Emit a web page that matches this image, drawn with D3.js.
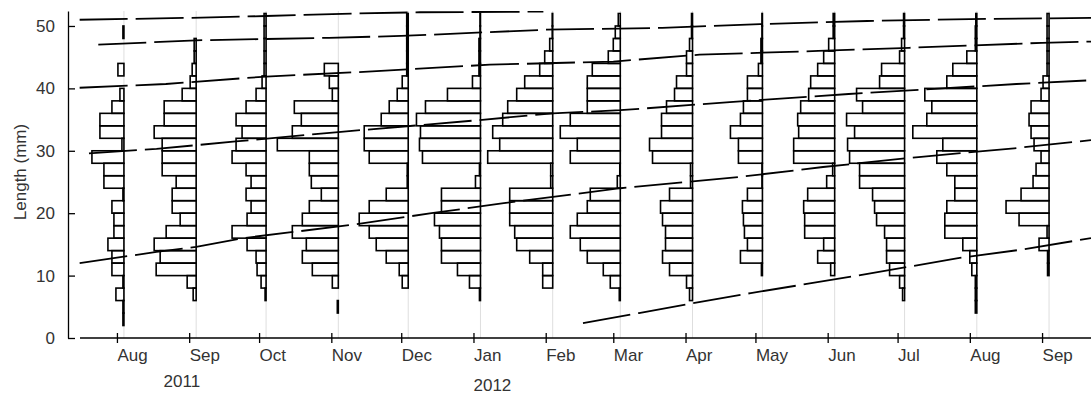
<!DOCTYPE html>
<html>
<head>
<meta charset="utf-8">
<script src="https://cdn.jsdelivr.net/npm/d3@7"></script>
<style>
body { margin: 0; background: #fff; }
text { font-family: "Liberation Sans", Arial, sans-serif; fill: #333; }
</style>
</head>
<body>
<div id="chart"></div>
<script>
// sampling dates, one histogram per date
const sampleDates = ['2011-08-04','2011-09-04','2011-10-04','2011-11-04','2011-12-04','2012-01-04',
    '2012-02-04','2012-03-04','2012-04-04','2012-05-04','2012-06-04','2012-07-04','2012-08-04','2012-09-04'];

// lower edge of each 2 mm length class
const binStarts = [2,4,6,8,10,12,14,16,18,20,22,24,26,28,30,32,34,36,38,40,42,44,46,48,50];
const binWidth = 2;

// frequencies per length class
const aug11 = [0.5,0.5,4,0.5,6,6,8,5,5,6,0.5,10,10,16,1,12,12,6,2,0,3,0,0,0.5,0];
const sep11 = [0,0,1.5,4.5,20,18,21,15,8,12,12,10,17,17,17,21,16,16,7,3,2,1,1,0,0];
const oct11 = [0,0,0.5,2.5,4.5,5,9.5,17,9.5,7.5,10,7.5,10,17,15,12,15,10,5,2,1,1,1,1,1];
const nov11 = [0,0.5,0,3,13,18,16,23,18,14.5,8.5,13.5,14.5,14.5,30.5,23,18.5,22,3,4.5,7,0,0,0,0];
const dec11 = [0,0,0,3,4.5,11,16,19.5,24.5,19.5,11,0.5,0.5,19.5,22,22,13.5,9.5,5.5,3,0.75,0.75,0.75,0.75,0.75];
const jan12 = [0,0,0.5,5.5,11.5,19.5,19.5,20.5,23,19.5,19.5,2.5,0.5,29,30.5,30,32,27.5,16.5,4,0.75,0.75,0.75,0.25,0.25];
const feb12 = [0,0,0,5,5,11.5,18,19,21.5,21.5,21.5,1,1,32.5,26.5,30,25,22.5,18,14,6.5,4,1.5,0.25,0.25];
const mar12 = [0,0,0.5,5,8.5,16.5,20,25,21.5,16.5,15,1.5,0.25,25,21.5,30,25,16.5,16.5,16.5,14,6,3.5,2.5,1];
const apr12 = [0,0,1.5,3,11.5,15,13.5,13.5,15,16,11.5,1,1,20,21.5,15.5,15.5,13,9,8,3,3,1.5,0.5,0.5];
const may12 = [0,0,0,0,0.5,11,7.5,9,9.5,10,7.5,0.25,0.25,12,12,16,11,9.5,7.5,7.5,2,0.75,0.75,0.25,0.25];
const jun12 = [0,0,0,0,2,8.5,5.5,15,15,15.5,13.5,4,1,20.5,20.5,18,18.5,17,13,12,8.5,5.5,3,0.75,0.75];
const jul12 = [0,0,1,2.5,7.5,9,9,10,14,15,16,22.5,22.5,27.5,28.5,25,29,21,24,12.5,11.5,2.5,1.5,0.5,0.5];
const aug12 = [0,0.75,0.75,0.75,2.5,3.5,7,16,16,15,11,11,15,20,17,32,25,22.5,26,15,12,5,0.75,0.75,0.5];
const sep12 = [0,0,0,0,0.75,0.75,5,1,15,21.5,14,8,6.5,4,7.5,9,10,9,4,3,1,1,1,1,1];
const freqs = [aug11, sep11, oct11, nov11, dec11, jan12, feb12, mar12, apr12, may12, jun12, jul12, aug12, sep12];

// cohort growth lines [date, length mm]
const cohortA = [['2011-07-16',51.0],['2011-09-01',51.3],['2011-10-04',51.6],['2011-11-12',52.0],['2011-12-09',52.2],['2012-01-31',52.3]];
const cohortB = [['2011-07-24',47.0],['2011-09-04',47.7],['2011-10-31',48.1],['2011-12-01',48.4],['2012-02-01',49.4],['2012-03-22',49.7],
    ['2012-05-03',50.3],['2012-06-18',50.8],['2012-08-01',51.1],['2012-09-22',51.3]];
const cohortC = [['2011-07-16',40.1],['2011-08-22',40.7],['2011-10-04',41.9],['2011-11-12',42.6],['2012-01-08',43.8],['2012-03-01',44.3],
    ['2012-04-07',45.4],['2012-05-28',46.0],['2012-07-06',46.5],['2012-09-01',47.3],['2012-09-22',47.5]];
const cohortD = [['2011-07-20',29.6],['2011-08-18',30.3],['2011-09-21',31.5],['2011-11-04',33.0],['2012-01-03',34.9],['2012-02-04',36.0],
    ['2012-03-04',36.5],['2012-04-20',37.8],['2012-06-10',39.1],['2012-08-21',40.7],['2012-09-22',41.3]];
const cohortE = [['2011-07-16',12.0],['2011-08-18',13.8],['2011-09-04',14.6],['2011-09-24',16.0],['2011-11-09',18.1],['2011-12-14',20.0],
    ['2012-01-14',21.6],['2012-03-04',24.0],['2012-04-24',25.8],['2012-05-30',27.4],['2012-07-10',29.0],['2012-08-20',30.4],['2012-09-22',31.7]];
const cohortF = [['2012-02-17',2.4],['2012-03-12',4.0],['2012-04-03',5.5],['2012-04-29',7.2],['2012-06-14',10.0],['2012-07-27',12.8],
    ['2012-08-22',14.1],['2012-09-22',16.0]];
const cohorts = [cohortA, cohortB, cohortC, cohortD, cohortE, cohortF];

// axis ticks and labels
const monthTicks = ['2011-08-01','2011-09-01','2011-10-01','2011-11-01','2011-12-01','2012-01-01','2012-02-01',
    '2012-03-01','2012-04-01','2012-05-01','2012-06-01','2012-07-01','2012-08-01','2012-09-01'];
const monthLabels = ['Aug','Sep','Oct','Nov','Dec','Jan','Feb','Mar','Apr','May','Jun','Jul','Aug','Sep'];
const yTicks = [0, 10, 20, 30, 40, 50];
const yearLabels = ['2011', '2012'];
const yearDates = ['2011-08-21', '2012-01-01'];

const w = 1091;
const h = 396;
const parse = d3.timeParse('%Y-%m-%d');

const xScale = d3.scaleTime()
    .domain([parse('2011-07-11'), parse('2012-09-22')])
    .range([68, w]);

const yScale = d3.scaleLinear()
    .domain([0, 52.4])
    .range([338, 11]);

// bar length per frequency unit
const lenScale = d3.scaleLinear()
    .domain([0, 10])
    .range([0, 20]);

const svg = d3.select('#chart')
    .append('svg')
    .attr('width', w)
    .attr('height', h);

svg.append('clipPath')
    .attr('id', 'plot')
    .append('rect')
    .attr('x', 68)
    .attr('y', yScale(52.4))
    .attr('width', w - 68)
    .attr('height', yScale(0) - yScale(52.4));

// faint lines at sampling dates
svg.append('g')
    .selectAll('line')
    .data(sampleDates)
    .enter()
    .append('line')
    .attr('x1', d => xScale(parse(d)))
    .attr('x2', d => xScale(parse(d)))
    .attr('y1', yScale(52.4))
    .attr('y2', yScale(0))
    .attr('stroke', '#dedede')
    .attr('stroke-width', 1);

// histograms hanging left of each date
const hist = svg.append('g')
    .attr('fill', 'none')
    .attr('stroke', '#000')
    .attr('stroke-width', 1.6);

freqs.forEach((f, i) => {
    const base = xScale(parse(sampleDates[i]));
    const bins = binStarts.map((b, j) => ({ b: b, n: f[j] })).filter(d => d.n > 0);
    hist.selectAll(null)
        .data(bins)
        .enter()
        .append('rect')
        .attr('x', d => base - lenScale(d.n))
        .attr('y', d => yScale(d.b + binWidth))
        .attr('width', d => lenScale(d.n))
        .attr('height', d => yScale(d.b) - yScale(d.b + binWidth));
});

// cohort growth lines
const line = d3.line()
    .x(d => xScale(parse(d[0])))
    .y(d => yScale(d[1]));

svg.append('g')
    .attr('clip-path', 'url(#plot)')
    .selectAll('path')
    .data(cohorts)
    .enter()
    .append('path')
    .attr('d', line)
    .attr('fill', 'none')
    .attr('stroke', '#000')
    .attr('stroke-width', 1.8)
    .attr('stroke-dasharray', '48,8');

// x axis
const xAxis = d3.axisBottom(xScale)
    .tickValues(monthTicks.map(parse))
    .tickFormat((d, i) => monthLabels[i])
    .tickSize(5);

const gx = svg.append('g')
    .attr('transform', 'translate(0,' + yScale(0) + ')')
    .call(xAxis);
gx.select('.domain').remove();
gx.append('line')
    .attr('x1', 80)
    .attr('x2', w)
    .attr('stroke', '#000')
    .attr('stroke-width', 1.3);
gx.selectAll('.tick line')
    .attr('y1', -5)
    .attr('y2', 5)
    .attr('stroke-width', 1.3);
gx.selectAll('.tick text')
    .attr('text-anchor', 'start')
    .attr('y', 11)
    .attr('font-size', 17)
    .attr('font-family', null);

// y axis
const yAxis = d3.axisLeft(yScale)
    .tickValues(yTicks)
    .tickSizeInner(-7)
    .tickSizeOuter(0)
    .tickPadding(13);

const gy = svg.append('g')
    .attr('transform', 'translate(68,0)')
    .call(yAxis);
gy.select('.domain').attr('stroke-width', 1.3);
gy.selectAll('.tick line').attr('stroke-width', 1.3);
gy.selectAll('.tick text')
    .attr('font-size', 17)
    .attr('font-family', null);

// year labels
svg.append('g')
    .selectAll('text')
    .data(yearLabels)
    .enter()
    .append('text')
    .attr('x', (d, i) => xScale(parse(yearDates[i])))
    .attr('y', (d, i) => i === 0 ? 387 : 391)
    .attr('font-size', 17)
    .text(d => d);

svg.append('text')
    .attr('transform', 'translate(26,172) rotate(-90)')
    .attr('text-anchor', 'middle')
    .attr('font-size', 17)
    .text('Length (mm)');
</script>
</body>
</html>
